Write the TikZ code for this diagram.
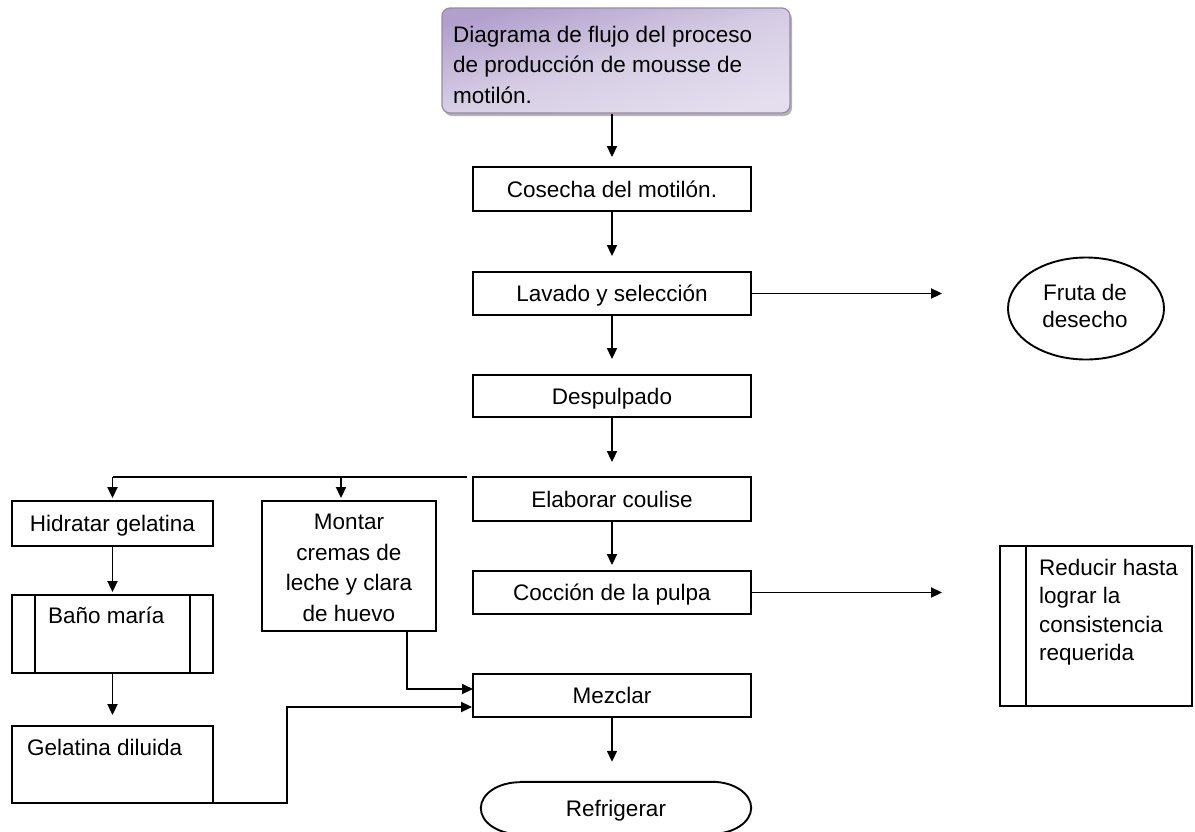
\documentclass[tikz,border=0pt]{standalone}
\usepackage{fontspec}
\setmainfont{Liberation Sans}
\usetikzlibrary{arrows.meta,shapes.geometric,shadows}

\definecolor{titletop}{RGB}{178,160,204}
\definecolor{titlemid}{RGB}{214,205,228}
\definecolor{titlebot}{RGB}{228,222,238}
\definecolor{titleline}{RGB}{150,138,170}

\begin{document}
\begin{tikzpicture}[x=1pt,y=-1pt,
  every node/.style={font=\fontsize{22.5}{30.5}\selectfont, inner sep=0pt},
  ln/.style={line width=1.9pt},
  stepbox/.style={draw, ln, minimum width=278pt, minimum height=44pt,
    text height=16pt, text depth=0pt},
  sidebox/.style={draw, ln, minimum width=201pt, text height=16pt, text depth=0pt},
  arr/.style={ln, -{Triangle[length=11pt,width=10pt]}},
  plainline/.style={ln}
]
\useasboundingbox (0,0) rectangle (1195,831);

% title box
\node[rectangle, rounded corners=8pt, minimum width=348pt, minimum height=105pt,
  draw=titleline, line width=1.2pt, top color=titletop, bottom color=titlebot,
  middle color=titlemid, shading angle=15,
  drop shadow={shadow xshift=2pt, shadow yshift=-3pt, fill=black!50, opacity=0.6}]
  (title) at (616,60.5) {};
\node[anchor=north west, align=left] (titletxt) at (453,25.6)
  {Diagrama de flujo del proceso\\de producción de mousse de\\motilón.};

% main column
\node[stepbox] (cosecha) at (612,189) {Cosecha del motilón.};
\node[stepbox, minimum height=43pt] (lavado) at (612,293.5) {Lavado y selección};
\node[stepbox, minimum height=42pt] (desp) at (612,396) {Despulpado};
\node[stepbox] (elab) at (612,499) {Elaborar coulise};
\node[stepbox, minimum height=43pt] (coccion) at (612,592.5) {Cocción de la pulpa};
\node[stepbox, minimum height=43pt] (mezclar) at (612,695.5) {Mezclar};

% end terminal
\node[minimum width=270pt, minimum height=52pt, text height=16pt, text depth=0pt]
  (refri) at (616,808) {Refrigerar};
\draw[ln] ([xshift=39pt]refri.north west) -- ([xshift=-39pt]refri.north east)
  arc[start angle=90, end angle=-90, x radius=39pt, y radius=26pt]
  -- ([xshift=39pt]refri.south west)
  arc[start angle=270, end angle=90, x radius=39pt, y radius=26pt];

% discarded fruit
\node[ellipse, draw, ln, minimum width=156pt, minimum height=102pt] (fruta) at (1086,308.5) {};
\node[anchor=north, align=center, font=\fontsize{22.5}{27}\selectfont]
  (frutatxt) at (1085,283.6) {Fruta de\\desecho};

% reduction box
\node[draw, ln, minimum width=192pt, minimum height=160pt] (reducir) at (1096,626) {};
\draw[ln] ([xshift=27pt]reducir.north west) -- ([xshift=27pt]reducir.south west);
\node[anchor=north west, align=left, font=\fontsize{22.5}{28.5}\selectfont]
  (reducirtxt) at (1039,558.6) {Reducir hasta\\lograr la\\consistencia\\requerida};

% left branch
\node[sidebox, minimum height=45pt] (hidratar) at (112.5,523.5) {Hidratar gelatina};
\node[draw, ln, minimum width=201pt, minimum height=78pt] (bano) at (112.5,634) {};
\draw[ln] ([xshift=24pt]bano.north west) -- ([xshift=24pt]bano.south west);
\draw[ln] ([xshift=-24pt]bano.north east) -- ([xshift=-24pt]bano.south east);
\node[anchor=base west] (banotxt) at (48,623) {Baño maría};
\node[draw, ln, minimum width=201pt, minimum height=77pt] (gelat) at (112.5,764.5) {};
\node[anchor=base west] (gelattxt) at (27,755) {Gelatina diluida};

\node[draw, ln, minimum width=174pt, minimum height=130pt] (montar) at (349,566) {};
\node[anchor=north, align=center] (montartxt) at (349,514)
  {Montar\\cremas de\\leche y clara\\de huevo};

% connector points
\coordinate (br) at (467,477);
\coordinate (mdrop) at (341,477);
\coordinate (gstart) at (100,803);
\coordinate (gturn) at (287,707);
\coordinate (mstart) at (407,631);
\coordinate (min) at (473,689);

% main flow
\draw[arr, shorten >=9pt] (cosecha.north |- title.south) -- (cosecha.north);
\draw[arr, shorten >=15pt] (cosecha.south) -- (lavado.north);
\draw[arr, shorten >=15pt] (lavado.south) -- (desp.north);
\draw[arr, shorten >=14pt] (desp.south) -- (elab.north);
\draw[arr, shorten >=5pt] (elab.south) -- (coccion.north);
\draw[arr, shorten >=20pt] (mezclar.south) -- (mezclar.south |- refri.north);

% side outputs
\draw[arr, shorten >=65pt] (lavado.east) -- (lavado.east -| fruta.west);
\draw[arr, shorten >=57pt] (coccion.east) -- (coccion.east -| reducir.west);

% left branch flow
\draw[plainline] (br) -- (hidratar.north |- br);
\draw[arr, shorten >=2pt] (hidratar.north |- br) -- (hidratar.north);
\draw[arr, shorten >=2pt] (mdrop) -- (mdrop |- montar.north);
\draw[arr, shorten >=2pt] (hidratar.south) -- (bano.north);
\draw[arr, shorten >=10pt] (bano.south) -- (gelat.north);
\draw[arr] (gstart) -| (gturn) -- (gturn -| mezclar.west);
\draw[arr] (mstart) |- (min);
\end{tikzpicture}
\end{document}
